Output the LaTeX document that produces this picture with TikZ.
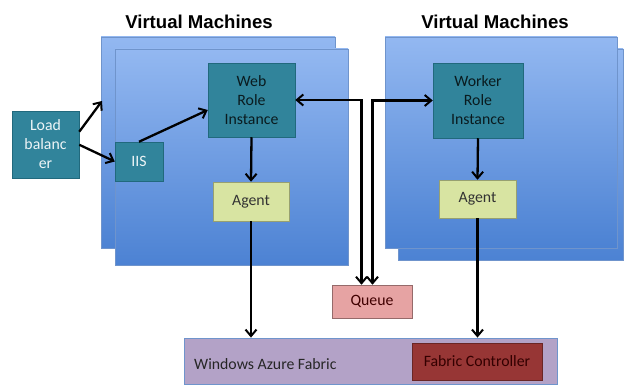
\documentclass[tikz,border=0pt]{standalone}
\usepackage{fontspec}
\setmainfont{Carlito}
\newfontfamily\titlefont{Liberation Sans}
\usetikzlibrary{arrows.meta,calc}
\definecolor{teal1}{HTML}{31849B}
\definecolor{teal2}{HTML}{21697D}
\definecolor{vmtop}{HTML}{93B8F1}
\definecolor{vmbot}{HTML}{4C82D3}
\definecolor{vmline}{HTML}{6F94CC}
\definecolor{agentc}{HTML}{D8E4A2}
\definecolor{queuec}{HTML}{E6A3A3}
\definecolor{fabricc}{HTML}{B3A2C7}
\definecolor{fcc}{HTML}{973635}
\begin{document}
\begin{tikzpicture}[x=1pt,y=-1pt,
  txt/.style={font=\fontsize{15.8}{19}\selectfont},
  vm/.style={draw=vmline, line width=0.6pt, top color=vmtop, bottom color=vmbot, inner sep=0pt},
  tealbox/.style={draw=teal2, line width=0.5pt, fill=teal1, align=center, inner sep=0pt, txt},
  lightbox/.style={tealbox, text=white!92!teal1},
  darkbox/.style={tealbox, text=black!80!teal1},
  agentbox/.style={draw=agentc!70!black, line width=0.5pt, fill=agentc, text=black!80, inner sep=0pt, txt},
  vmtitle/.style={font=\titlefont\bfseries\fontsize{18.6}{22}\selectfont},
  tip/.style={Straight Barb[length=6.5pt,width=11pt,line width=2pt]},
  conn/.style={line width=2.3pt, -{Straight Barb[length=6.5pt,width=11pt,line width=2pt]}},
  biconn/.style={line width=2.3pt, {Straight Barb[length=6.5pt,width=11pt,line width=2pt]}-{Straight Barb[length=6.5pt,width=11pt,line width=2pt]}}
]
\useasboundingbox (0,0) rectangle (624,385);

% titles
\node[vmtitle] (t1) at (199,22) {Virtual Machines};
\node[vmtitle] (t2) at (495,22) {Virtual Machines};

% left VM stack
\node[vm, minimum width=234pt, minimum height=211pt] (vmLb) at (218,142.5) {};
\node[vm, minimum width=233pt, minimum height=216pt] (vmLf) at (231.5,157) {};
% right VM stack
\node[vm, minimum width=225pt, minimum height=211pt] (vmRb) at (510.5,154.5) {};
\node[vm, minimum width=232pt, minimum height=211pt] (vmRf) at (501,142.5) {};

% boxes
\node[lightbox, minimum width=67pt, minimum height=67pt] (lb) at (45.5,144.5) {Load\\balanc\\er};
\node[lightbox, minimum width=48pt, minimum height=39pt] (iis) at (139,161.5) {IIS};
\node[darkbox, minimum width=87pt, minimum height=74pt] (web) at (251.5,100) {Web\\Role\\Instance};
\node[agentbox, minimum width=76pt, minimum height=39pt] (agL) at (251,201.5) {Agent};
\node[darkbox, minimum width=90pt, minimum height=75pt] (wrk) at (478,100.5) {Worker\\Role\\Instance};
\node[agentbox, minimum width=77pt, minimum height=38pt] (agR) at (477.5,199) {Agent};
\node[draw=queuec!65!black, line width=0.5pt, fill=queuec, text=black!75!red, inner sep=0pt,
      minimum width=80pt, minimum height=33pt, txt] (queue) at (372,301.5) {Queue};
\node[draw=vmline, line width=0.8pt, fill=fabricc, inner sep=0pt, minimum width=373pt, minimum height=46pt] (fabric) at (370.5,361) {};
\node[anchor=west, text=black!85, inner sep=0pt, txt] (fabtxt) at (194,364) {Windows Azure Fabric};
\node[draw=fcc!70!black, line width=0.6pt, fill=fcc, text=black!80!red, inner sep=0pt,
      minimum width=130pt, minimum height=37pt, txt] (fc) at (477,361.5) {Fabric Controller};

% helper coordinates
\coordinate (vmin) at (102,101);
\coordinate (lbA) at ($(lb.north east)+(0,21)$);
\coordinate (lbB) at ($(lb.north east)+(0,34)$);
\coordinate (webIn) at ($(web.west)+(0,10)$);
\coordinate (qA) at ($(queue.north)+(-10.5,0)$);
\coordinate (qB) at ($(queue.north)+(0.5,0)$);
\coordinate (fabL) at (agL.south |- fabric.north);
\coordinate (fabR) at (agR.south |- fabric.north);

% connectors
\draw[conn] (lbA) -- (vmin);
\draw[conn] (lbB) -- (iis.west);
\draw[conn] (iis.north) -- (webIn);
\draw[conn] (web.south) -- (agL.north);
\draw[conn] (wrk.south) -- (agR.north);
\draw[conn] (agL.south) -- (fabL);
\draw[conn] (agR.south) -- (fabR);
\draw[biconn] (web.east) -| (qA);
\draw[biconn] (wrk.west) -| (qB);
\end{tikzpicture}
\end{document}
